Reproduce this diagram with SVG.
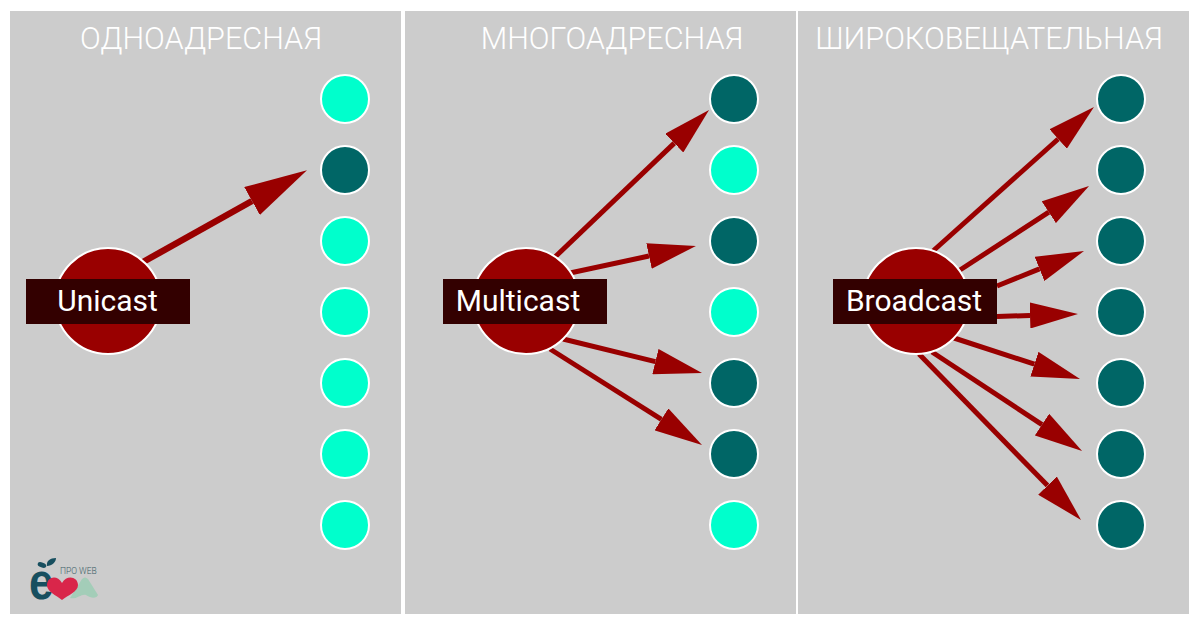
<svg xmlns="http://www.w3.org/2000/svg" width="1200" height="630" viewBox="0 0 1200 630">
<style>
.panel{fill:#cccccc}
.title{font-family:Roboto,"Liberation Sans",sans-serif;font-weight:300;font-size:30.6px;fill:#fff;text-anchor:middle}
.on{fill:#006666;stroke:#fff;stroke-width:2}
.off{fill:#00ffcc;stroke:#fff;stroke-width:2}
.src{fill:#990000;stroke:#fff;stroke-width:2}
.tag{fill:#330000}
.lbl{font-family:Roboto,"Liberation Sans",sans-serif;font-size:30px;fill:#fff;text-anchor:middle}
.a{fill:none;stroke:#990000;stroke-width:5;marker-end:url(#h)}
.a6{stroke-width:6.5;marker-end:url(#h6)}
</style>
<defs>
<marker id="h" viewBox="0 0 48 26" refX="0" refY="13" markerWidth="48" markerHeight="26" orient="auto" markerUnits="userSpaceOnUse"><path d="M0 0L48 13L0 26Z" fill="#990000"/></marker>
<marker id="h6" viewBox="0 0 63 32" refX="0" refY="16" markerWidth="63" markerHeight="32" orient="auto" markerUnits="userSpaceOnUse"><path d="M0 0L63 16L0 32Z" fill="#990000"/></marker>
</defs>
<rect width="1200" height="630" fill="#fff"/>
<rect class="panel" x="10" y="11" width="391" height="603"/>
<rect class="panel" x="405" y="11" width="391" height="603"/>
<rect class="panel" x="798" y="11" width="391" height="603"/>
<text class="title" x="201" y="49">ОДНОАДРЕСНАЯ</text>
<text class="title" x="612" y="49">МНОГОАДРЕСНАЯ</text>
<text class="title" x="989" y="49">ШИРОКОВЕЩАТЕЛЬНАЯ</text>
<g id="connectors">
<path class="a a6" d="M143 262L252 201"/>
<path class="a" d="M555 257L674.3 143.1"/>
<path class="a" d="M570 273L649 256"/>
<path class="a" d="M563 339L655.4 361.6"/>
<path class="a" d="M550 349L661.4 419.4"/>
<path class="a" d="M933 251L1058.2 139"/>
<path class="a" d="M960 270L1048.8 212.2"/>
<path class="a" d="M997 286L1039.5 268.9"/>
<path class="a" d="M997 316.5L1030 315.5"/>
<path class="a" d="M954 338L1034.4 364.2"/>
<path class="a" d="M932 352L1042 424.6"/>
<path class="a" d="M919 354L1047.5 485.6"/>
</g>
<g id="unicast-source"><circle class="src" cx="108" cy="301" r="53"/><rect class="tag" x="26" y="279" width="164" height="45"/><text class="lbl" x="107.500" y="311">Unicast</text></g>
<g id="multicast-source"><circle class="src" cx="526" cy="301" r="53"/><rect class="tag" x="443" y="279" width="164" height="45"/><text class="lbl" x="518" y="311">Multicast</text></g>
<g id="broadcast-source"><circle class="src" cx="916" cy="301" r="53"/><rect class="tag" x="833" y="279" width="164" height="45"/><text class="lbl" x="914" y="311">Broadcast</text></g>
<g id="unicast-nodes">
<circle class="off" cx="345" cy="99" r="24"/><circle class="on" cx="345" cy="170" r="24"/><circle class="off" cx="345" cy="241" r="24"/><circle class="off" cx="345" cy="312" r="24"/><circle class="off" cx="345" cy="383" r="24"/><circle class="off" cx="345" cy="454" r="24"/><circle class="off" cx="345" cy="525" r="24"/>
</g>
<g id="multicast-nodes">
<circle class="on" cx="734" cy="99" r="24"/><circle class="off" cx="734" cy="170" r="24"/><circle class="on" cx="734" cy="241" r="24"/><circle class="off" cx="734" cy="312" r="24"/><circle class="on" cx="734" cy="383" r="24"/><circle class="on" cx="734" cy="454" r="24"/><circle class="off" cx="734" cy="525" r="24"/>
</g>
<g id="broadcast-nodes">
<circle class="on" cx="1121" cy="99" r="24"/><circle class="on" cx="1121" cy="170" r="24"/><circle class="on" cx="1121" cy="241" r="24"/><circle class="on" cx="1121" cy="312" r="24"/><circle class="on" cx="1121" cy="383" r="24"/><circle class="on" cx="1121" cy="454" r="24"/><circle class="on" cx="1121" cy="525" r="24"/>
</g>
<g id="logo">
<path d="M70 598L82 579C84 577 86 577 88 579L98 595C97 598 92 599 86 595C82 593 76 600 70 598Z" fill="#a3cdb8"/>
<text transform="translate(29 599) scale(.85 1)" font-family="'Liberation Sans',sans-serif" font-weight="700" font-size="52" fill="#174f5f">е</text>
<ellipse cx="42" cy="565" rx="4.500" ry="2.500" transform="rotate(20 42 565)" fill="#174f5f"/>
<path d="M47 566C46 561 50 558 56 558C56 562 52 566 47 566Z" fill="#174f5f"/>
<path d="M62 600C56 595 47 592 47 585C47 577 57 574 62 583C67 574 78 577 78 585C78 592 68 595 62 600Z" fill="#d9264a"/>
<text x="60" y="574" font-family="Roboto,'Liberation Sans',sans-serif" font-weight="300" font-size="8.500" fill="#3d5f68">ПРО WEB</text>
</g>
</svg>
